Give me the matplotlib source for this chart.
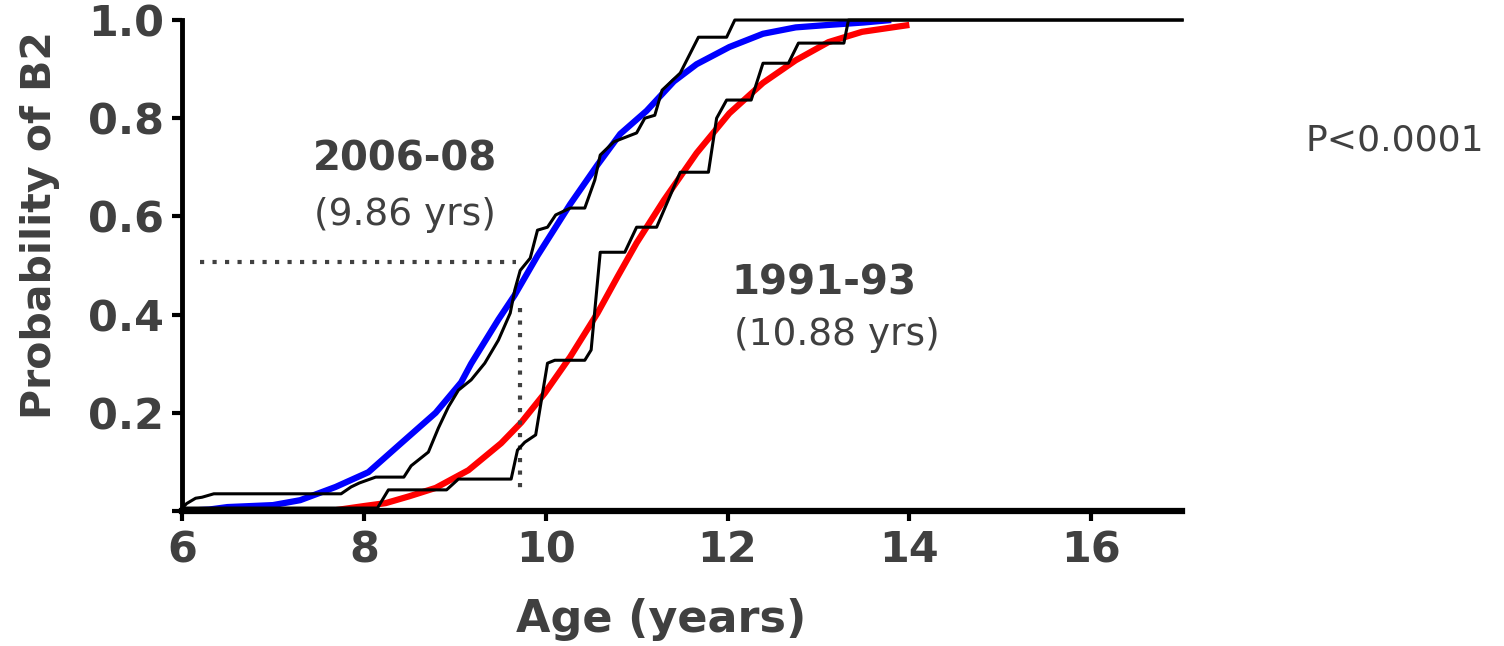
import matplotlib
matplotlib.use("Agg")
import matplotlib.pyplot as plt

# fitted curve, 2006-08 (blue)
blue_x = [6.0, 6.3, 6.5, 7.0, 7.3, 7.69, 8.05, 8.41, 8.6, 8.79, 9.07, 9.18, 9.48, 9.66, 9.91,
          10.27, 10.57, 10.82, 11.11, 11.41, 11.66, 12.02, 12.39, 12.75, 13.11, 13.5, 13.8]
blue_y = [0.0, 0.003, 0.008, 0.012, 0.022, 0.049, 0.079, 0.138, 0.169, 0.20, 0.262, 0.30, 0.39, 0.44, 0.52,
          0.625, 0.705, 0.768, 0.815, 0.875, 0.91, 0.945, 0.972, 0.985, 0.99, 0.995, 1.0]

# empirical steps, 2006-08
emp06_x = [6.0, 6.05, 6.15, 6.22, 6.35, 7.75, 7.86, 7.95, 8.13, 8.44, 8.52, 8.71, 8.82, 8.93, 9.04,
           9.18, 9.33, 9.48, 9.61, 9.66, 9.72, 9.83, 9.91, 10.02, 10.11, 10.27, 10.43, 10.54, 10.60,
           10.75, 11.0, 11.09, 11.2, 11.28, 11.48, 11.68, 11.99, 12.08, 17.0]
emp06_y = [0.005, 0.015, 0.026, 0.028, 0.035, 0.035, 0.049, 0.057, 0.069, 0.069, 0.092, 0.12, 0.169,
           0.212, 0.246, 0.267, 0.301, 0.348, 0.403, 0.45, 0.49, 0.515, 0.572, 0.578, 0.603, 0.617,
           0.617, 0.674, 0.725, 0.752, 0.77, 0.80, 0.806, 0.857, 0.892, 0.965, 0.965, 1.0, 1.0]

# fitted curve, 1991-93 (red)
red_x = [7.7, 8.0, 8.24, 8.5, 8.79, 9.15, 9.51, 9.73, 9.99, 10.27, 10.57, 10.79, 11.0, 11.3, 11.66,
         12.02, 12.39, 12.75, 13.11, 13.48, 13.85, 14.0]
red_y = [0.002, 0.01, 0.016, 0.03, 0.047, 0.083, 0.138, 0.18, 0.24, 0.314, 0.403, 0.477, 0.546, 0.633,
         0.729, 0.81, 0.872, 0.918, 0.955, 0.976, 0.986, 0.99]

# empirical steps, 1991-93
emp91_x = [6.0, 8.15, 8.27, 8.91, 9.04, 9.62, 9.69, 9.77, 9.89, 10.02, 10.1, 10.43, 10.5, 10.6, 10.87,
           11.0, 11.22, 11.48, 11.79, 11.88, 11.99, 12.26, 12.39, 12.67, 12.78, 13.28, 13.33, 17.0]
emp91_y = [0.006, 0.006, 0.043, 0.043, 0.065, 0.065, 0.124, 0.14, 0.155, 0.301, 0.307, 0.307, 0.328,
           0.527, 0.527, 0.578, 0.578, 0.69, 0.69, 0.80, 0.837, 0.837, 0.912, 0.912, 0.953, 0.953, 1.0, 1.0]

median_x = 9.72
median_y = 0.507

xticks = [6, 8, 10, 12, 14, 16]
yticks = [0, 0.2, 0.4, 0.6, 0.8, 1.0]
ytick_labels = ["", "0.2", "0.4", "0.6", "0.8", "1.0"]

grey = "#404040"

fig = plt.figure(figsize=(15.04, 6.46), dpi=100)
ax = fig.add_axes([0.121, 0.209, 0.665, 0.760])

ax.plot(blue_x, blue_y, color="#0000ff", lw=4.5, solid_capstyle="butt", zorder=2)
ax.plot(red_x, red_y, color="#ff0000", lw=4.5, solid_capstyle="butt", zorder=2)
ax.plot(emp06_x, emp06_y, color="black", lw=2.2, zorder=3, clip_on=False)
ax.plot(emp91_x, emp91_y, color="black", lw=2.2, zorder=3, clip_on=False)

# median markers
ax.plot([6.2, median_x - 0.05], [median_y, median_y], color=grey, lw=3,
        linestyle=(0, (1, 2)), dash_capstyle="butt")
ax.plot([median_x, median_x], [0.413, 0.035], color=grey, lw=3,
        linestyle=(0, (1, 2)), dash_capstyle="butt")

ax.text(8.45, 0.715, "2006-08", fontsize=29, fontweight="bold", color=grey, ha="center", va="center")
ax.text(8.45, 0.603, "(9.86 yrs)", fontsize=27, color=grey, ha="center", va="center")
ax.text(13.06, 0.464, "1991-93", fontsize=29, fontweight="bold", color=grey, ha="center", va="center")
ax.text(13.2, 0.358, "(10.88 yrs)", fontsize=27, color=grey, ha="center", va="center")
fig.text(0.9275, 0.783, "P<0.0001", fontsize=26, color=grey, ha="center", va="center")

ax.set_xlim(6, 17)
ax.set_ylim(0, 1.0)
ax.set_xticks(xticks)
ax.set_yticks(yticks)
ax.set_yticklabels(ytick_labels)
for s in ["top", "right"]:
    ax.spines[s].set_visible(False)
ax.spines["left"].set_linewidth(3.5)
ax.spines["bottom"].set_linewidth(4.5)
ax.tick_params(axis="both", direction="out", length=7, width=3, color="black",
               labelsize=31, labelcolor=grey, pad=6)
for lab in ax.get_xticklabels() + ax.get_yticklabels():
    lab.set_fontweight("bold")

ax.set_xlabel("Age (years)", fontsize=32, fontweight="bold", color=grey)
ax.set_ylabel("Probability of B2", fontsize=29.5, fontweight="bold", color=grey)
ax.xaxis.set_label_coords(0.479, -0.177)
ax.yaxis.set_label_coords(-0.122, 0.582)

fig.savefig("out.png", dpi=100)
